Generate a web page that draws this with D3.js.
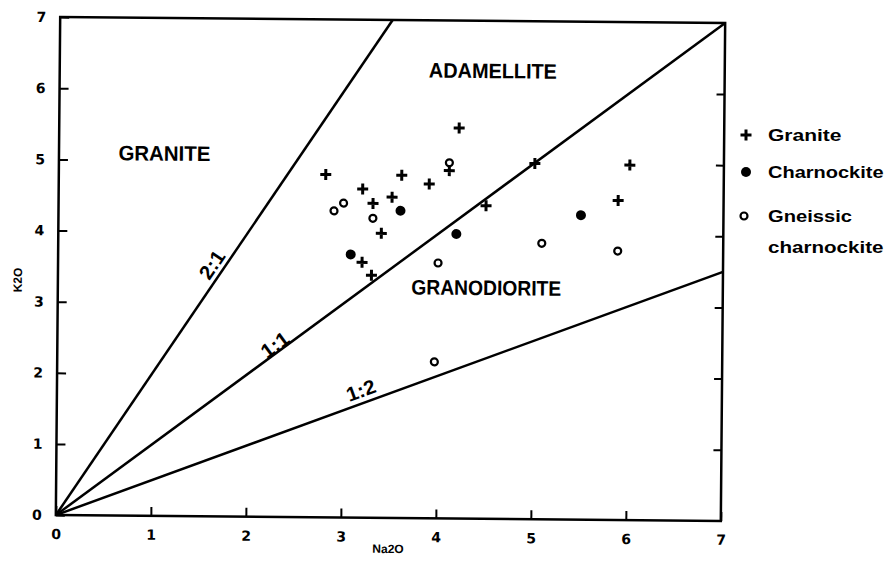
<!DOCTYPE html>
<html>
<head>
<meta charset="utf-8">
<script src="https://cdn.jsdelivr.net/npm/d3@7"></script>
<style>
  body { margin: 0; background: #fff; }
  text { font-family: 'Liberation Sans', Arial, sans-serif; font-weight: bold; fill: #000; }
</style>
</head>
<body>
<svg id="container" width="886" height="566"></svg>
<script>
// Na2O / K2O values
const graniteNa = [2.81, 4.21, 4.11, 3.61, 3.90, 3.20, 3.51, 3.31, 3.40, 4.50, 3.20, 3.30, 5.01, 6.01, 5.89]
const graniteK = [4.82, 5.49, 4.89, 4.82, 4.70, 4.62, 4.51, 4.42, 4.00, 4.40, 3.59, 3.41, 5.00, 4.99, 4.49]
const charnNa = [3.60, 4.19, 3.08, 5.50]
const charnK = [4.32, 4.00, 3.70, 4.28]
const gneissNa = [4.11, 2.90, 3.00, 3.31, 4.00, 5.09, 5.89, 3.97]
const gneissK = [5.00, 4.31, 4.42, 4.21, 3.59, 3.88, 3.78, 2.20]

const ticks = [0, 1, 2, 3, 4, 5, 6, 7]
const ratios = [2, 1, 0.5]
const ratioLabels = ['2:1', '1:1', '1:2']
const ratioLabelPos = [[1.62, 3.54], [2.29, 2.42], [3.2, 1.79]]
const regionNames = ['GRANITE', 'ADAMELLITE', 'GRANODIORITE']
const regionPos = [[1.11, 5.1], [4.56, 6.3], [4.51, 3.25]]
const regionWidths = [92, 128, 150]
const legendNames = ['Granite', 'Charnockite', 'Gneissic', 'charnockite']

const margin = { left: 58, right: 723, top: 20, bottom: 518 }
const svg = d3.select('#container')

let x = d3.scaleLinear().domain([0, 7]).range([margin.left, margin.right])
let y = d3.scaleLinear().domain([0, 7]).range([margin.bottom, margin.top])

// the scan is slightly tilted
const cx = (margin.left + margin.right) / 2, cy = (margin.top + margin.bottom) / 2
const g = svg.append('g').attr('transform', `rotate(0.5,${cx},${cy})`)

let clip = svg.append('defs').append('clipPath').attr('id', 'clip')
clip.append('rect')
  .attr('x', margin.left).attr('y', margin.top)
  .attr('width', margin.right - margin.left).attr('height', margin.bottom - margin.top)

// axes, ticks inward
g.append('g')
  .attr('transform', `translate(0,${margin.bottom})`)
  .call(d3.axisBottom(x).tickValues(ticks).tickSize(-9).tickPadding(14).tickFormat(d3.format('d')))
  .call((a) => a.select('.domain').remove())
g.append('g')
  .attr('transform', `translate(${margin.left},0)`)
  .call(d3.axisLeft(y).tickValues(ticks).tickSize(-9).tickPadding(14).tickFormat(d3.format('d')))
  .call((a) => a.select('.domain').remove())
g.append('g')
  .attr('transform', `translate(${margin.right},0)`)
  .call(d3.axisRight(y).tickValues(ticks.slice(1, 7)).tickSize(-8).tickFormat(''))
  .call((a) => a.select('.domain').remove())
g.selectAll('.tick line').attr('stroke', '#000').attr('stroke-width', 2)
g.selectAll('.tick text').style('font-size', '14px').style('font-family', "'DejaVu Sans', sans-serif")

g.append('rect')
  .attr('x', margin.left).attr('y', margin.top)
  .attr('width', margin.right - margin.left).attr('height', margin.bottom - margin.top)
  .attr('fill', 'none').attr('stroke', '#000').attr('stroke-width', 2.5)

// ratio lines
g.append('g').attr('clip-path', 'url(#clip)')
  .selectAll('line').data(ratios).enter().append('line')
  .attr('x1', x(0)).attr('y1', y(0))
  .attr('x2', (r) => x(r > 1 ? 7 / r : 7))
  .attr('y2', (r) => y(r > 1 ? 7 : 7 * r))
  .attr('stroke', '#000').attr('stroke-width', 2.5)

ratioLabels.forEach((t, i) => {
  let ang = -Math.atan((y(0) - y(ratios[i])) / (x(1) - x(0))) * 180 / Math.PI
  g.append('text')
    .attr('transform', `translate(${x(ratioLabelPos[i][0])},${y(ratioLabelPos[i][1])}) rotate(${ang})`)
    .attr('text-anchor', 'middle').attr('dominant-baseline', 'central')
    .style('font-size', '20px')
    .attr('textLength', 30).attr('lengthAdjust', 'spacingAndGlyphs')
    .text(t)
})

regionNames.forEach((t, i) => {
  g.append('text')
    .attr('x', x(regionPos[i][0])).attr('y', y(regionPos[i][1]))
    .attr('text-anchor', 'middle').attr('dominant-baseline', 'central')
    .style('font-size', '21px')
    .attr('textLength', regionWidths[i]).attr('lengthAdjust', 'spacingAndGlyphs')
    .text(t)
})

// axis titles
g.append('text')
  .attr('x', x(3.5)).attr('y', 553)
  .attr('text-anchor', 'middle').style('font-size', '12px')
  .text('Na2O')
g.append('text')
  .attr('transform', `translate(18,${y(3.3)}) rotate(-90)`)
  .attr('text-anchor', 'middle').attr('dominant-baseline', 'central')
  .style('font-size', '12px')
  .text('K2O')

// points
const plus = 'M-5.5,0H5.5M0,-5.5V5.5'
g.selectAll('.granite').data(graniteNa).enter().append('path')
  .attr('class', 'granite')
  .attr('d', plus)
  .attr('transform', (d, i) => `translate(${x(d)},${y(graniteK[i])})`)
  .attr('stroke', '#000').attr('stroke-width', 3)
g.selectAll('.charn').data(charnNa).enter().append('circle')
  .attr('class', 'charn')
  .attr('cx', (d) => x(d)).attr('cy', (d, i) => y(charnK[i]))
  .attr('r', 5).attr('fill', '#000')
g.selectAll('.gneiss').data(gneissNa).enter().append('circle')
  .attr('class', 'gneiss')
  .attr('cx', (d) => x(d)).attr('cy', (d, i) => y(gneissK[i]))
  .attr('r', 3.5).attr('fill', 'none').attr('stroke', '#000').attr('stroke-width', 2.2)

// legend
const leg = svg.append('g')
const legY = [135, 172, 216, 247]
leg.append('path').attr('d', plus)
  .attr('transform', `translate(746,${legY[0]})`)
  .attr('stroke', '#000').attr('stroke-width', 3)
leg.append('circle').attr('cx', 746).attr('cy', legY[1]).attr('r', 5).attr('fill', '#000')
leg.append('circle').attr('cx', 744).attr('cy', legY[2]).attr('r', 3.5)
  .attr('fill', 'none').attr('stroke', '#000').attr('stroke-width', 2.2)
leg.selectAll('text').data(legendNames).enter().append('text')
  .attr('x', 768).attr('y', (d, i) => legY[i])
  .attr('dominant-baseline', 'central')
  .style('font-size', '17px')
  .attr('textLength', (d) => d.length * 10.5)
  .attr('lengthAdjust', 'spacingAndGlyphs')
  .text((d) => d)
</script>
</body>
</html>
